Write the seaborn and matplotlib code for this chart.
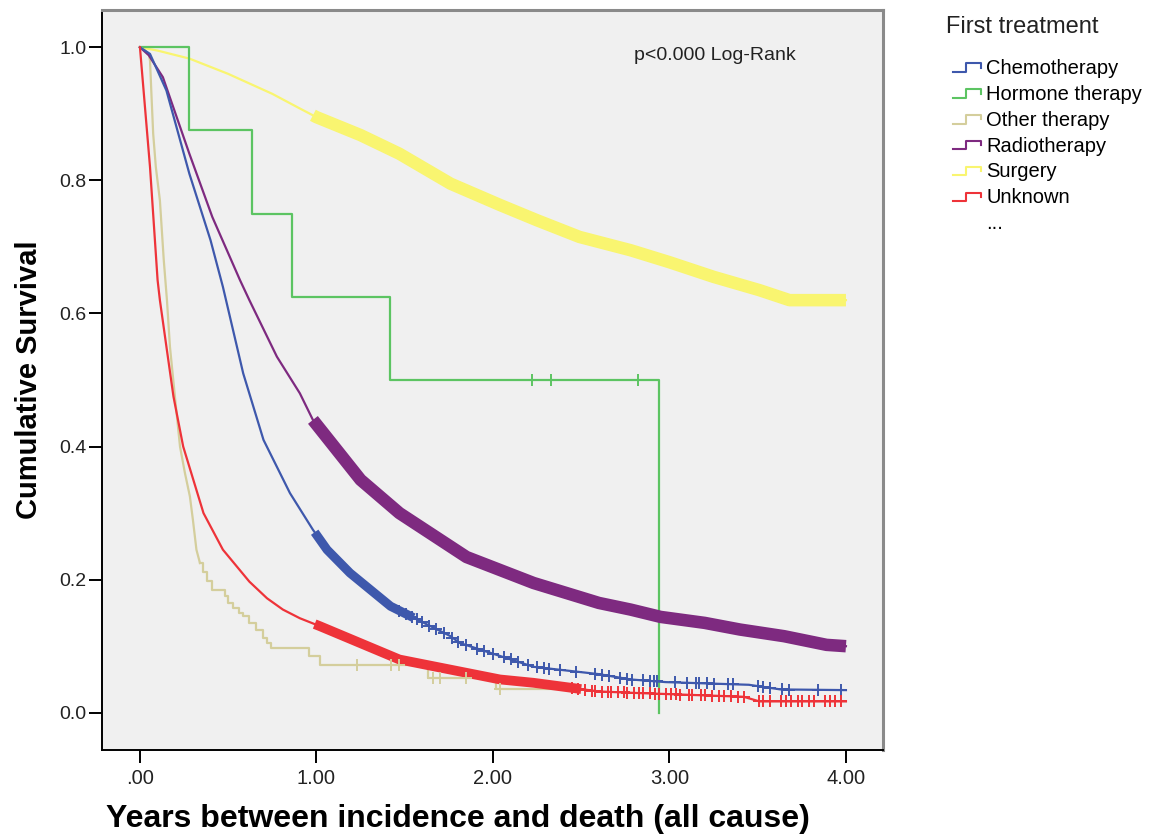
import numpy as np
import pandas as pd
import matplotlib
matplotlib.use("Agg")
import matplotlib.pyplot as plt
from matplotlib.lines import Line2D
from matplotlib.legend_handler import HandlerBase
import seaborn as sns

plt.rcParams['font.family'] = ['Liberation Sans', 'DejaVu Sans']

# ---------------- data ----------------
categories = ["Chemotherapy", "Hormone therapy", "Other therapy",
              "Radiotherapy", "Surgery", "Unknown"]
colors = {"Chemotherapy": "#3e58ac", "Hormone therapy": "#5cc462",
          "Other therapy": "#d4ce9c", "Radiotherapy": "#7e2a80",
          "Surgery": "#f9f570", "Unknown": "#ee3339"}

chemo_t = [0, 0.057, 0.15, 0.28, 0.40, 0.47, 0.585, 0.70, 0.85, 0.98, 1.06,
           1.19, 1.42, 1.76, 1.81, 2.23, 2.6, 2.78, 2.98, 3.45, 3.63, 4.0]
chemo_s = [1.0, 0.99, 0.935, 0.81, 0.71, 0.64, 0.51, 0.41, 0.33, 0.275, 0.245,
           0.21, 0.16, 0.115, 0.105, 0.069, 0.058, 0.05, 0.046, 0.042, 0.035, 0.034]

hormone_t = [0, 0.28, 0.635, 0.86, 1.415, 2.94, 2.94]
hormone_s = [1.0, 0.875, 0.75, 0.625, 0.5, 0.0, 0.0]

# Other therapy: smooth early part, then a visible staircase
other_t = [0, 0.03, 0.05, 0.057, 0.065, 0.075, 0.09, 0.113, 0.135, 0.153, 0.17,
           0.20, 0.227, 0.255, 0.283, 0.30, 0.32, 0.34]
other_s = [1.0, 0.995, 0.99, 0.98, 0.93, 0.87, 0.82, 0.77, 0.68, 0.62, 0.55,
           0.47, 0.40, 0.36, 0.325, 0.29, 0.245, 0.225]
other_step_t = [0.34, 0.36, 0.38, 0.41, 0.48, 0.50, 0.53, 0.56, 0.585, 0.62, 0.66,
                0.70, 0.72, 0.745, 0.96, 1.02, 1.63, 2.02, 2.45]
other_step_s = [0.225, 0.212, 0.198, 0.185, 0.175, 0.165, 0.158, 0.15, 0.145, 0.135,
                0.125, 0.112, 0.105, 0.098, 0.085, 0.072, 0.052, 0.035, 0.035]

radio_t = [0, 0.05, 0.13, 0.28, 0.41, 0.567, 0.62, 0.776, 0.906, 0.98, 1.25,
           1.47, 1.85, 2.23, 2.6, 2.78, 2.95, 3.2, 3.4, 3.65, 3.89, 4.0]
radio_s = [1.0, 0.988, 0.955, 0.84, 0.745, 0.65, 0.62, 0.535, 0.48, 0.44, 0.35,
           0.30, 0.234, 0.195, 0.165, 0.155, 0.144, 0.135, 0.125, 0.115, 0.102, 0.10]

surgery_t = [0, 0.1, 0.28, 0.5, 0.75, 0.906, 1.0, 1.25, 1.47, 1.76, 2.04,
             2.25, 2.49, 2.78, 3.0, 3.25, 3.51, 3.68, 4.0]
surgery_s = [1.0, 0.995, 0.983, 0.96, 0.93, 0.908, 0.895, 0.868, 0.84, 0.795, 0.763,
             0.74, 0.715, 0.695, 0.677, 0.655, 0.635, 0.62, 0.62]

unknown_t = [0, 0.057, 0.10, 0.113, 0.15, 0.19, 0.245, 0.36, 0.47, 0.62, 0.72,
             0.81, 0.906, 1.02, 1.47, 2.04, 2.23, 2.6, 2.78, 3.42, 3.51, 4.0]
unknown_s = [1.0, 0.82, 0.65, 0.62, 0.55, 0.475, 0.40, 0.30, 0.245, 0.197, 0.172,
             0.155, 0.142, 0.13, 0.08, 0.05, 0.045, 0.032, 0.03, 0.024, 0.017, 0.017]

# dense censoring band (years) for each group
dense_start = {"Chemotherapy": 0.99, "Radiotherapy": 0.98, "Surgery": 0.98, "Unknown": 0.99}
dense_end = {"Chemotherapy": 1.55, "Radiotherapy": 4.0, "Surgery": 4.0, "Unknown": 2.5}

# sparse censor marks (years)
chemo_cens = [1.47, 1.51, 1.54, 1.57, 1.60, 1.64, 1.68, 1.72, 1.77, 1.80, 1.85,
              1.91, 1.95, 2.0, 2.06, 2.10, 2.14, 2.20, 2.25, 2.29, 2.32, 2.38,
              2.47, 2.58, 2.62, 2.66, 2.72, 2.76, 2.79, 2.85, 2.89, 2.91, 2.93,
              3.03, 3.10, 3.15, 3.17, 3.21, 3.25, 3.33, 3.36, 3.50, 3.53, 3.57,
              3.64, 3.68, 3.84, 3.97]
hormone_cens = [2.22, 2.33, 2.82]
other_cens = [1.23, 1.42, 1.47, 1.66, 1.70, 1.85, 2.04]
unknown_cens = [2.45, 2.48, 2.52, 2.56, 2.58, 2.62, 2.65, 2.67, 2.71, 2.74, 2.76,
                2.80, 2.83, 2.85, 2.89, 2.92, 2.94, 2.98, 3.01, 3.04, 3.06, 3.11,
                3.13, 3.18, 3.20, 3.24, 3.28, 3.31, 3.35, 3.39, 3.42, 3.51, 3.53,
                3.57, 3.63, 3.66, 3.69, 3.73, 3.75, 3.79, 3.82, 3.88, 3.91, 3.94, 3.97]

x_ticks = [0, 1, 2, 3, 4]
x_ticklabels = [".00", "1.00", "2.00", "3.00", "4.00"]
y_ticks = [0.0, 0.2, 0.4, 0.6, 0.8, 1.0]
y_ticklabels = ["0.0", "0.2", "0.4", "0.6", "0.8", "1.0"]

# name: (times, survival, censor times, drawn as steps)
series = {
    "Chemotherapy": (chemo_t, chemo_s, chemo_cens, False),
    "Hormone therapy": (hormone_t, hormone_s, hormone_cens, True),
    "Other therapy": (other_t, other_s, [], False),
    "Other therapy (steps)": (other_step_t, other_step_s, other_cens, True),
    "Radiotherapy": (radio_t, radio_s, [], False),
    "Surgery": (surgery_t, surgery_s, [], False),
    "Unknown": (unknown_t, unknown_s, unknown_cens, False),
}

# ---------------- figure ----------------
W, H = 1149, 839
fig = plt.figure(figsize=(W / 100, H / 100), dpi=100)
ax = fig.add_axes([102 / W, 1 - 750 / H, (883 - 102) / W, (750 - 10) / H])
ax.set_facecolor("#f0f0f0")

draw_order = ["Surgery", "Hormone therapy", "Other therapy", "Other therapy (steps)",
              "Radiotherapy", "Chemotherapy", "Unknown"]


def surv_at(t, s, q, step):
    t = np.asarray(t, float)
    s = np.asarray(s, float)
    q = np.asarray(q, float)
    if step:
        idx = np.searchsorted(t, q, side="right") - 1
        return s[idx]
    return np.interp(q, t, s)


for name in draw_order:
    t, s, cens, step = series[name]
    col = colors[name.replace(" (steps)", "")]
    df = pd.DataFrame({"time": t, "surv": s})
    kw = dict(drawstyle="steps-post") if step else {}
    sns.lineplot(data=df, x="time", y="surv", ax=ax, color=col,
                 linewidth=1.6, estimator=None, sort=False, legend=False, **kw)
    if name in dense_start:
        a, b = dense_start[name], dense_end[name]
        tt = [a] + [v for v in t if a < v < b] + [b]
        ss = list(surv_at(t, s, tt, step))
        dd = pd.DataFrame({"time": tt, "surv": ss})
        width = {"Radiotherapy": 9.0, "Surgery": 9.0,
                 "Chemotherapy": 6.5, "Unknown": 7.0}[name]
        sns.lineplot(data=dd, x="time", y="surv", ax=ax, color=col,
                     linewidth=width, estimator=None, sort=False, legend=False,
                     solid_capstyle="butt")
    if len(cens):
        cdf = pd.DataFrame({"time": cens, "surv": surv_at(t, s, cens, step)})
        sns.scatterplot(data=cdf, x="time", y="surv", ax=ax, marker="+",
                        s=75, color=col, linewidth=1.4, legend=False, zorder=3)

ax.set_xlim(-0.215, 4.21)
ax.set_ylim(-0.056, 1.056)
ax.set_xticks(x_ticks)
ax.set_xticklabels(x_ticklabels)
ax.set_yticks(y_ticks)
ax.set_yticklabels(y_ticklabels)
ax.tick_params(axis="both", direction="out", length=9.5, width=1.4,
               colors="black", labelcolor="#222222")
ax.tick_params(axis="x", pad=4, labelsize=14.5)
ax.tick_params(axis="y", pad=1.5, labelsize=14)

for sp in ("left", "bottom"):
    ax.spines[sp].set_color("black")
    ax.spines[sp].set_linewidth(1.4)
for sp in ("top", "right"):
    ax.spines[sp].set_color("#8a8a8a")
    ax.spines[sp].set_linewidth(2.2)

ax.set_xlabel("Years between incidence and death (all cause)", fontsize=23,
              fontweight="bold")
ax.xaxis.set_label_coords((458 - 102) / 781, -54 / 740)
ax.set_ylabel("Cumulative Survival", fontsize=21, fontweight="bold", labelpad=12)

ax.text(2.80, 0.988, "p<0.000 Log-Rank", fontsize=14, ha="left", va="center",
        color="#222222")


# ---------------- legend with step-shaped handles ----------------
class HandlerStep(HandlerBase):
    def create_artists(self, legend, orig_handle, xdescent, ydescent,
                       width, height, fontsize, trans):
        x0 = -xdescent
        y0 = -ydescent
        lo = y0 + height * 0.15
        hi = y0 + height * 0.75
        xs = [x0, x0 + width * 0.45, x0 + width * 0.45, x0 + width * 0.97, x0 + width * 0.97]
        ys = [lo, lo, hi, hi, hi - height * 0.3]
        ln = Line2D(xs, ys, color=orig_handle.get_color(), linewidth=1.5,
                    transform=trans)
        return [ln]


handles = [Line2D([], [], color=colors[c]) for c in categories]
handles.append(Line2D([], [], color="none"))
labels = categories + ["..."]

fig.text(946 / W, 1 - 27 / H, "First treatment", fontsize=17, ha="left",
         va="center", color="#222222")
leg = fig.legend(handles, labels, loc="upper left",
                 bbox_to_anchor=(953 / W, 1 - 59 / H), frameon=False,
                 handler_map={Line2D: HandlerStep()}, fontsize=14.5,
                 handlelength=1.45, handletextpad=0.2, labelspacing=0.34,
                 borderpad=0, borderaxespad=0)

fig.savefig("out.png", dpi=100, facecolor="white")
